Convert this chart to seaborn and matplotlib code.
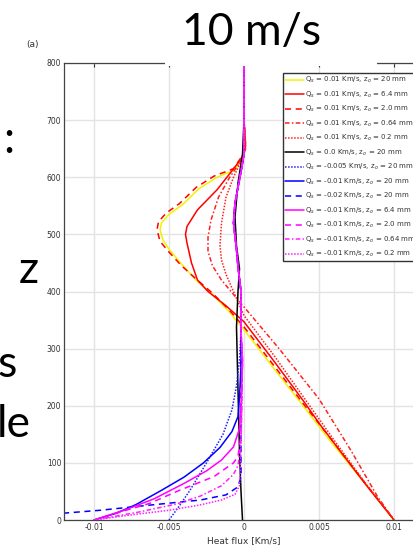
import numpy as np
import pandas as pd
import matplotlib
matplotlib.use("Agg")
import matplotlib.pyplot as plt
import seaborn as sns
from matplotlib.patches import Rectangle

# ---------------- data (x = heat flux [Km/s], z = height [m]) ----------------
yellow_x = [0.0, 0.0, 0.0001, 0.0, -0.0006, -0.0018, -0.0030, -0.0041, -0.0050, -0.0055, -0.0056, -0.0054, -0.0050, -0.0041, -0.0032, -0.0021, -0.0010, 0.0, 0.0020, 0.0040, 0.0057, 0.0080, 0.0100]
yellow_z = [800, 700, 660, 640, 613, 600, 580, 552, 535, 520, 508, 490, 474, 446, 420, 395, 365, 333, 265, 198, 140, 66, 0]

rsol_x = [0.0, 0.0, 0.0001, 0.0, -0.0006, -0.0018, -0.0031, -0.0038, -0.0039, -0.0038, -0.0035, -0.0031, -0.0024, -0.0012, 0.0, 0.0020, 0.0040, 0.0051, 0.0062, 0.0080, 0.0100]
rsol_z = [800, 700, 655, 640, 618, 578, 543, 514, 500, 485, 450, 420, 400, 375, 347, 278, 207, 166, 128, 66, 0]

rdash_x = [0.0, 0.0, 0.0001, 0.0, -0.0007, -0.0020, -0.0032, -0.0043, -0.0052, -0.0057, -0.0058, -0.0056, -0.0051, -0.0042, -0.0032, -0.0021, -0.0010, 0.0, 0.0020, 0.0040, 0.0058, 0.0080, 0.0100]
rdash_z = [800, 700, 660, 642, 615, 602, 582, 554, 537, 522, 508, 488, 472, 446, 422, 397, 368, 338, 270, 202, 142, 67, 0]

rdd_x = [0.0, 0.0, 0.0001, -0.0003, -0.0010, -0.0017, -0.0022, -0.0024, -0.0024, -0.0021, -0.0015, -0.0008, 0.0, 0.0024, 0.0050, 0.0071, 0.0089, 0.0100]
rdd_z = [800, 700, 650, 625, 598, 565, 525, 495, 470, 445, 420, 398, 373, 298, 212, 123, 41, 0]

rdot_x = [0.0, 0.0, 0.0001, -0.0002, -0.0007, -0.0012, -0.0015, -0.0016, -0.0015, -0.0012, -0.0007, 0.0, 0.0020, 0.0040, 0.0060, 0.0080, 0.0100]
rdot_z = [800, 700, 650, 628, 600, 565, 520, 480, 455, 430, 400, 358, 288, 214, 140, 68, 0]

blk_x = [0.0, 0.0, -0.0001, -0.0004, -0.0006, -0.0005, -0.0003, -0.0004, -0.0005, -0.0004, -0.0003, -0.0002, -0.0001]
blk_z = [800, 700, 640, 590, 530, 480, 440, 400, 338, 228, 120, 50, 0]

# shared upper part of the negative-flux profiles
neg_top_x = [-0.0002, -0.0002, -0.0004, -0.0005, -0.0007, -0.0006, -0.0002, 0.0, 0.0, 0.0]
neg_top_z = [330, 400, 443, 473, 520, 555, 610, 640, 700, 800]

bdot_x = [-0.0050, -0.0043, -0.0036, -0.0025, -0.0014, -0.0008, -0.0005, -0.0003]
bdot_z = [0, 25, 52, 100, 150, 193, 235, 280]

bsol_x = [-0.0100, -0.0085, -0.0072, -0.0055, -0.0040, -0.0027, -0.0016, -0.0008, -0.0004, -0.0003, -0.0002]
bsol_z = [0, 12, 27, 52, 75, 100, 127, 155, 181, 215, 270]

bdash_x = [-0.0200, -0.0150, -0.0120, -0.0096, -0.0063, -0.0029, -0.0012, -0.0004, -0.0002, -0.0002]
bdash_z = [0, 7, 12, 17, 26, 35, 44, 58, 76, 150]

msol_x = [-0.0100, -0.0080, -0.0060, -0.0040, -0.0025, -0.0015, -0.0007, -0.0003, -0.0002, -0.0001]
msol_z = [0, 17, 37, 64, 86, 105, 128, 160, 200, 280]

mdash_x = [-0.0100, -0.0080, -0.0063, -0.0043, -0.0020, -0.0007, -0.0004, -0.0002, -0.0001]
mdash_z = [0, 16, 29, 52, 76, 100, 111, 150, 280]

mdd_x = [-0.0100, -0.0070, -0.0045, -0.0029, -0.0015, -0.0007, -0.0004, -0.0002, -0.0001]
mdd_z = [0, 14, 28, 42, 60, 80, 95, 140, 280]

mdot_x = [-0.0100, -0.0075, -0.0050, -0.0030, -0.0015, -0.0006, -0.0003, -0.0002, -0.0001]
mdot_z = [0, 9, 17, 26, 35, 45, 60, 120, 280]

labels = [
    r"Q$_s$ = 0.01 Km/s, z$_o$ = 20 mm",
    r"Q$_s$ = 0.01 Km/s, z$_o$ = 6.4 mm",
    r"Q$_s$ = 0.01 Km/s, z$_o$ = 2.0 mm",
    r"Q$_s$ = 0.01 Km/s, z$_o$ = 0.64 mm",
    r"Q$_s$ = 0.01 Km/s, z$_o$ = 0.2 mm",
    r"Q$_s$ = 0.0 Km/s, z$_o$ = 20 mm",
    r"Q$_s$ = -0.005 Km/s, z$_o$ = 20 mm",
    r"Q$_s$ = -0.01 Km/s, z$_o$ = 20 mm",
    r"Q$_s$ = -0.02 Km/s, z$_o$ = 20 mm",
    r"Q$_s$ = -0.01 Km/s, z$_o$ = 6.4 mm",
    r"Q$_s$ = -0.01 Km/s, z$_o$ = 2.0 mm",
    r"Q$_s$ = -0.01 Km/s, z$_o$ = 0.64 mm",
    r"Q$_s$ = -0.01 Km/s, z$_o$ = 0.2 mm",
]
x_ticks = [-0.01, -0.005, 0, 0.005, 0.01]
x_ticklabels = ["-0.01", "-0.005", "0", "0.005", "0.01"]
y_ticks = [0, 100, 200, 300, 400, 500, 600, 700, 800]

# ---------------- figure ----------------
sns.set_theme(style="white")
plt.rcParams["font.family"] = ["DejaVu Sans"]

W, H = 414, 548
fig = plt.figure(figsize=(W / 100, H / 100), dpi=100)
fig.patch.set_facecolor("white")
ax = fig.add_axes([64 / W, 28 / H, 360 / W, 457 / H])

series = [
    (yellow_x, yellow_z, "#f2f200", "-"),
    (rsol_x, rsol_z, "#ff0000", "-"),
    (rdash_x, rdash_z, "#ff0000", (0, (4, 3))),
    (rdd_x, rdd_z, "#ff2020", (0, (3, 1.5, 1, 1.5))),
    (rdot_x, rdot_z, "#ff2020", (0, (1, 1))),
    (blk_x, blk_z, "#000000", "-"),
    (bdot_x + neg_top_x, bdot_z + neg_top_z, "#2020ff", (0, (1, 1))),
    (bsol_x + neg_top_x, bsol_z + neg_top_z, "#0000ff", "-"),
    (bdash_x + neg_top_x, bdash_z + neg_top_z, "#0000ff", (0, (4, 3))),
    (msol_x + neg_top_x, msol_z + neg_top_z, "#ff00ff", "-"),
    (mdash_x + neg_top_x, mdash_z + neg_top_z, "#ff00ff", (0, (4, 3))),
    (mdd_x + neg_top_x, mdd_z + neg_top_z, "#ff20ff", (0, (3, 1.5, 1, 1.5))),
    (mdot_x + neg_top_x, mdot_z + neg_top_z, "#ff20ff", (0, (1, 1))),
]

for (xs, zs, col, ls), lab in zip(series, labels):
    df = pd.DataFrame({"flux": xs, "z": zs})
    sns.lineplot(data=df, x="flux", y="z", sort=False, estimator=None,
                 color=col, linestyle=ls, linewidth=1.1, label=lab, ax=ax)

ax.set_xlim(-0.012, 0.012)
ax.set_ylim(0, 800)
ax.set_xticks(x_ticks)
ax.set_xticklabels(x_ticklabels)
ax.set_yticks(y_ticks)
ax.grid(True, color="#e3e3e3", linewidth=1.0)
ax.set_axisbelow(True)
ax.tick_params(direction="in", length=3, width=0.8, top=True, right=True,
               labelsize=5.5, colors="#333333", pad=2)
for s in ax.spines.values():
    s.set_color("#444444")
    s.set_linewidth(0.9)
ax.set_xlabel("Heat flux [Km/s]", fontsize=6.5, color="#333333", labelpad=3)
ax.set_ylabel("")

leg = ax.legend(loc="upper left", bbox_to_anchor=(283 / W, 1 - 73 / H),
                bbox_transform=fig.transFigure, fontsize=5.0, frameon=True,
                fancybox=False, edgecolor="#333333", framealpha=1,
                labelspacing=0.62, handlelength=2.7, handletextpad=0.15,
                borderpad=0.3, borderaxespad=0)
leg.get_frame().set_linewidth(1.0)
for t in leg.get_texts():
    t.set_color("#333333")

# slide overlay elements
fig.patches.append(Rectangle((165 / W, 1 - 66 / H), (377 - 165) / W, 66 / H,
                             transform=fig.transFigure, facecolor="white",
                             edgecolor="none", zorder=3))
fig.text(252 / W, 1 - 45 / H, "10 m/s", ha="center", va="baseline",
         fontsize=32, family=["Lato", "DejaVu Sans"], color="black", zorder=4)
fig.text(33 / W, 1 - 45 / H, "(a)", ha="center", va="center",
         fontsize=6.5, color="#333333", zorder=4)
slide_font = ["Lato", "DejaVu Sans"]
fig.text(3 / W, 1 - 153 / H, ":", ha="left", va="baseline", fontsize=32,
         family=slide_font, color="black")
fig.text(19 / W, 1 - 283 / H, "z", ha="left", va="baseline", fontsize=32,
         family=slide_font, color="black")
fig.text(-3 / W, 1 - 377 / H, "s", ha="left", va="baseline", fontsize=32,
         family=slide_font, color="black")
fig.text(-3 / W, 1 - 437 / H, "le", ha="left", va="baseline", fontsize=32,
         family=slide_font, color="black")

fig.savefig("out.png", dpi=100)
